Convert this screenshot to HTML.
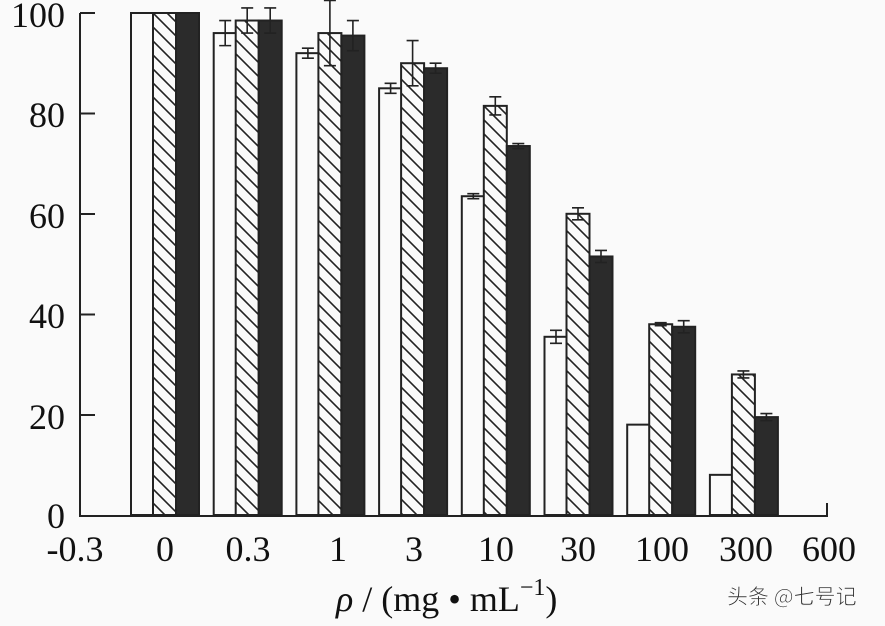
<!DOCTYPE html>
<html><head><meta charset="utf-8"><style>
html,body{margin:0;padding:0;background:#fafafa;}
svg{display:block;}
text{font-family:"Liberation Serif",serif;fill:#111;}
</style></head><body>
<svg width="885" height="626" viewBox="0 0 885 626" xmlns="http://www.w3.org/2000/svg">
<defs>
<pattern id="h" patternUnits="userSpaceOnUse" width="14" height="14">
<rect width="14" height="14" fill="#fafafa"/>
<path d="M-4,-4 L18,18 M-4,10 L4,18 M10,-4 L18,4" stroke="#222" stroke-width="1.6"/>
</pattern>
</defs>
<rect width="885" height="626" fill="#fafafa"/>
<g id="bars" stroke="#222" stroke-width="2"></g>
<g id="err" stroke="#222" stroke-width="1.6" fill="none"></g>
<path d="M80,13 V516 H827 V503" stroke="#222" stroke-width="2" fill="none"/>
<path d="M80,13 H95 M80,113.5 H95 M80,214 H95 M80,314.5 H95 M80,415 H95" stroke="#222" stroke-width="2"/>
<g font-size="36" text-anchor="end">
<text x="65" y="27">100</text>
<text x="65" y="127">80</text>
<text x="65" y="228">60</text>
<text x="65" y="328">40</text>
<text x="65" y="429">20</text>
<text x="65" y="528">0</text>
</g>
<g font-size="36" text-anchor="middle">
<text x="75" y="561">-0.3</text>
<text x="165" y="561">0</text>
<text x="248" y="561">0.3</text>
<text x="338" y="561">1</text>
<text x="414" y="561">3</text>
<text x="496" y="561">10</text>
<text x="578" y="561">30</text>
<text x="662" y="561">100</text>
<text x="746" y="561">300</text>
<text x="829" y="561">600</text>
</g>
<text x="336" y="611" font-size="36"><tspan font-style="italic">ρ</tspan> / (mg • mL<tspan font-size="24" dy="-16">−1</tspan><tspan dy="16">)</tspan></text>
<text x="727" y="604" font-size="21" style="font-family:'Noto Sans CJK SC',sans-serif;fill:#333;stroke:#fff;stroke-width:0.6">头条 @七号记</text>
<script>
var w=[100,96,92,85,63.5,35.5,18,8],hh=[100,98.5,96,90,81.5,60,38,28],b=[100,98.5,95.5,89,73.5,51.5,37.5,19.5];
var ew=[0,2.5,1,1,0.5,1.3,0,0],eh=[0,2.5,6.5,4.5,1.8,1.2,0.3,0.7],eb=[0,2.5,3,1,0.5,1.2,1.2,0.7];
function y(v){return 515-5.02*v;}
var ns="http://www.w3.org/2000/svg",g=document.getElementById('bars'),e=document.getElementById('err');
function bar(x,v,fill,err){var r=document.createElementNS(ns,'rect');r.setAttribute('x',x);r.setAttribute('y',y(v));r.setAttribute('width',23);r.setAttribute('height',515-y(v));r.setAttribute('fill',fill);g.appendChild(r);
if(err>0){var c=x+11.5,p=document.createElementNS(ns,'path');p.setAttribute('d','M'+c+','+y(v+err)+'V'+y(v-err)+'M'+(c-6)+','+y(v+err)+'h12M'+(c-6)+','+y(v-err)+'h12');e.appendChild(p);}}
for(var i=0;i<8;i++){var x0=131+82.7*i;bar(x0,w[i],'#fafafa',ew[i]);bar(x0+22,hh[i],'url(#h)',eh[i]);bar(x0+45,b[i],'#2b2b2b',eb[i]);}
</script>
</svg>
</body></html>
